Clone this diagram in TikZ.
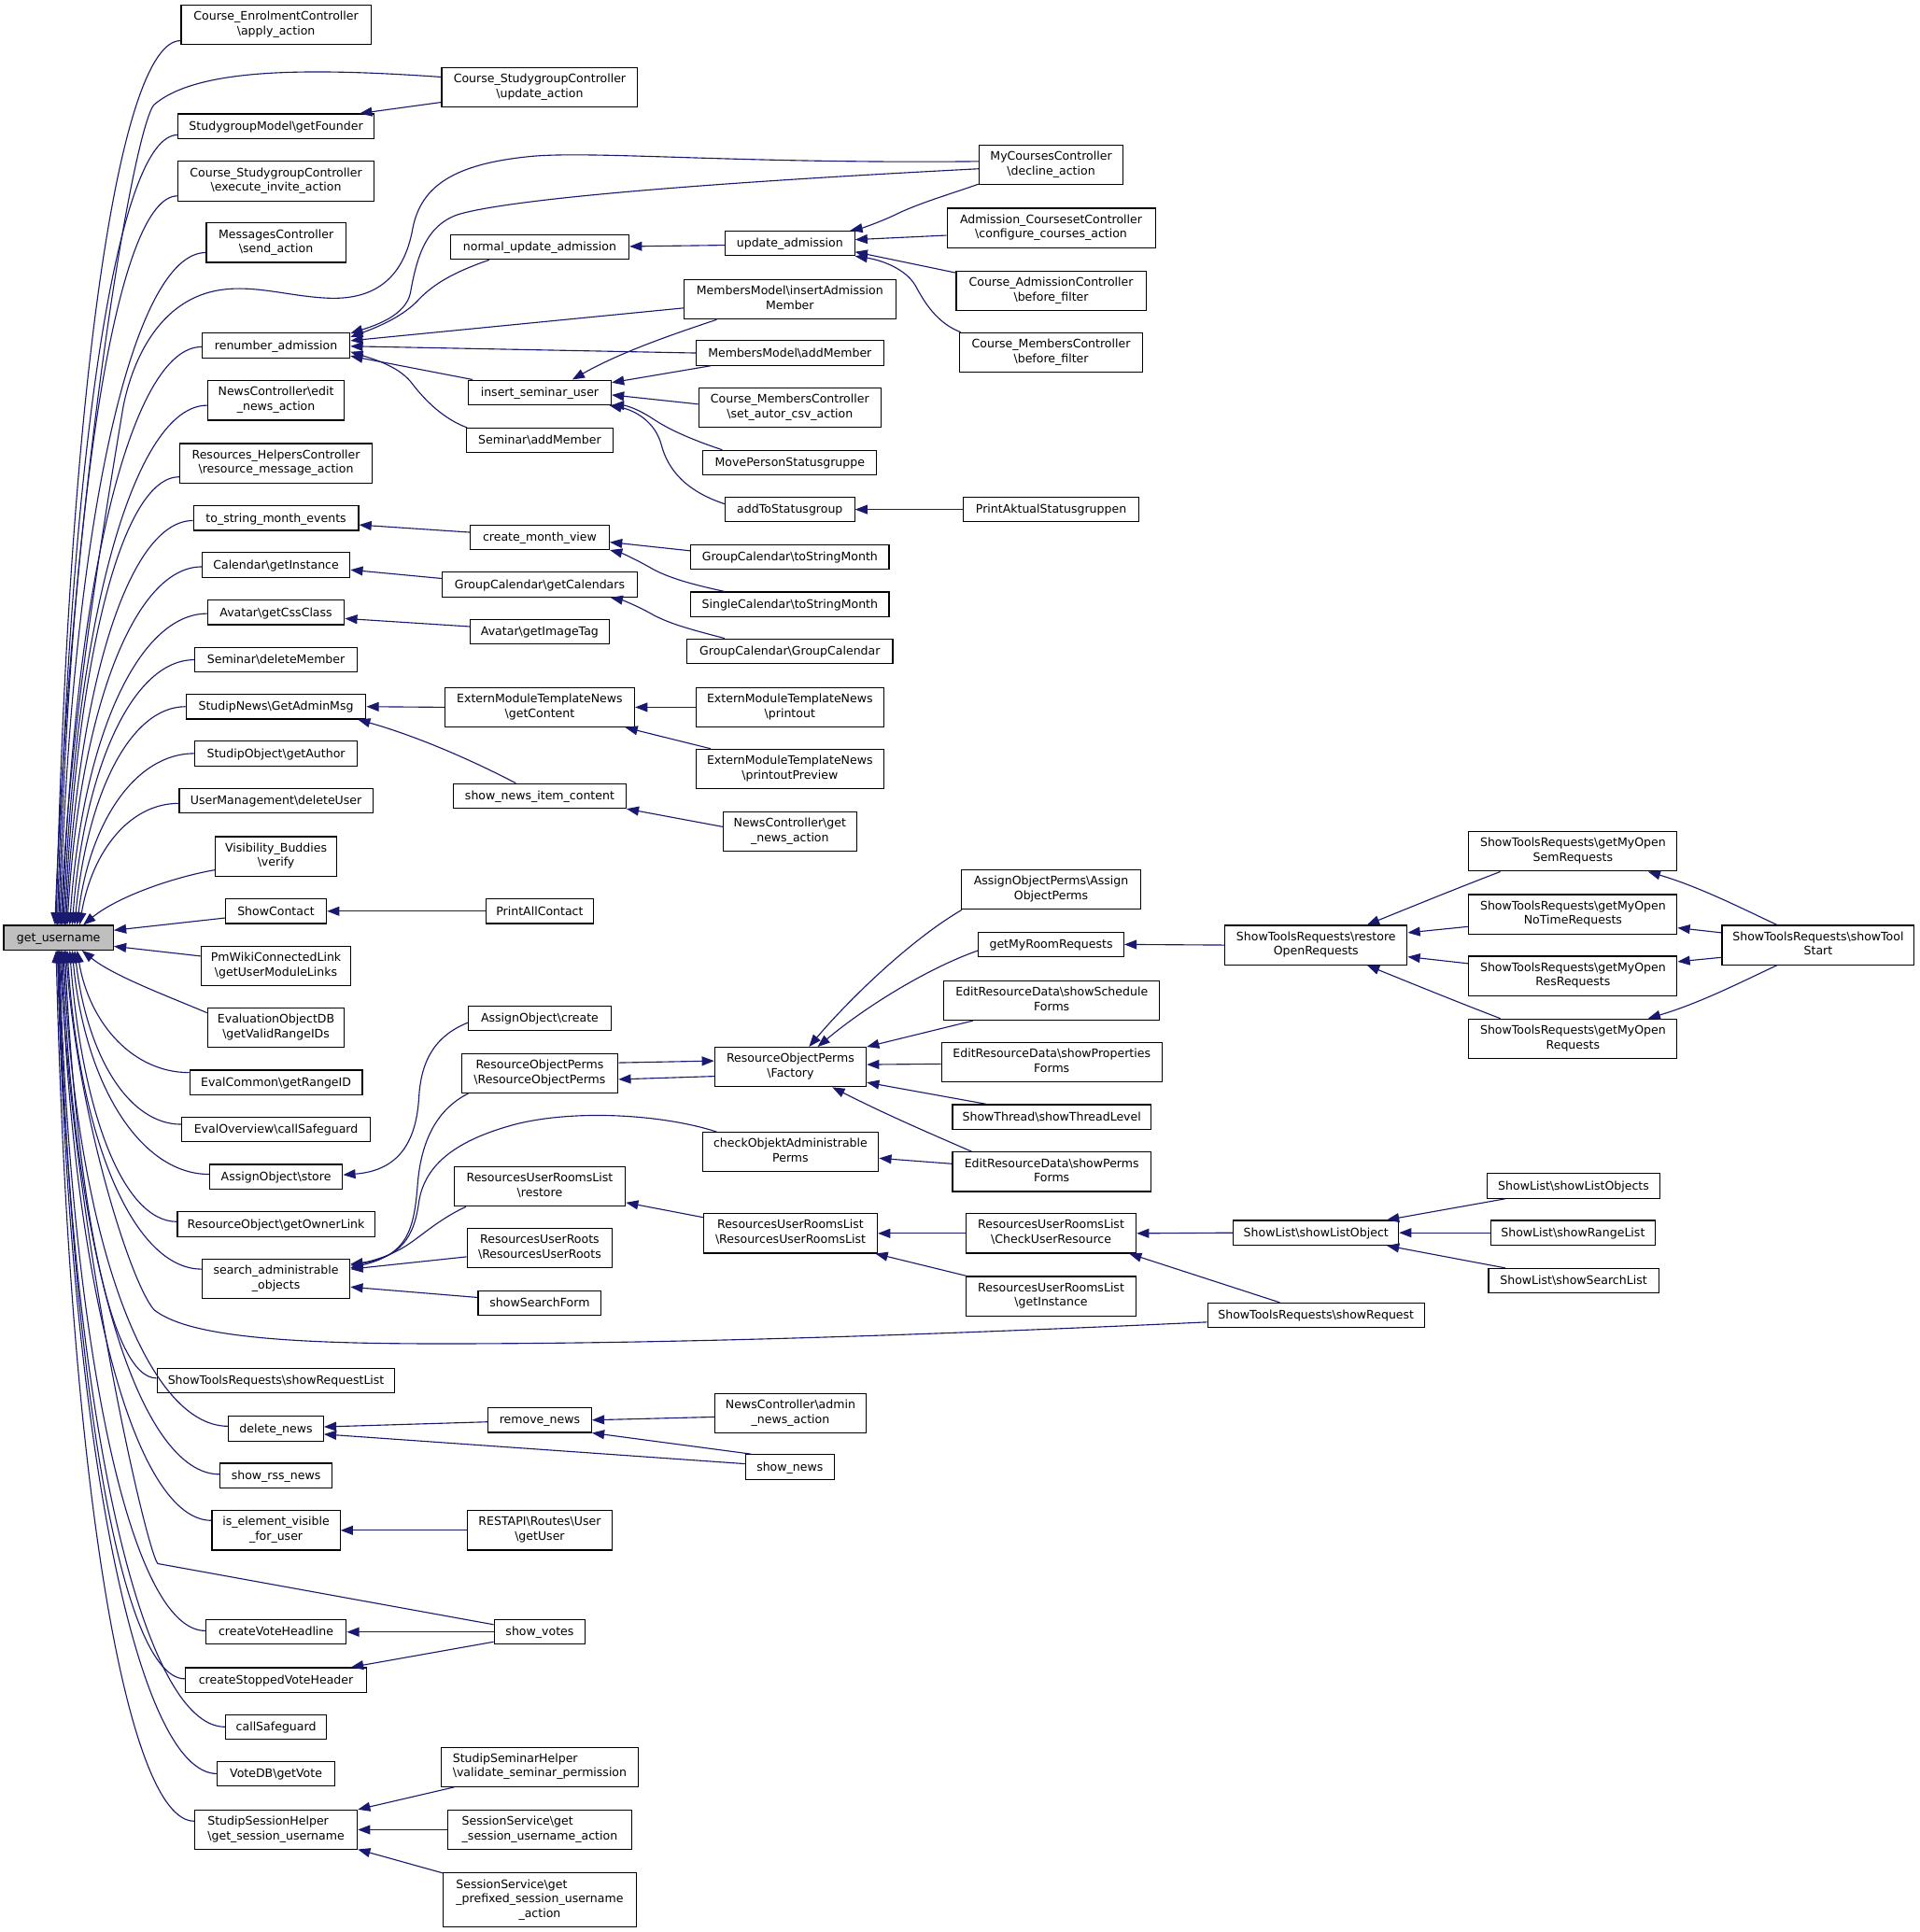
\documentclass[tikz,border=0pt]{standalone}
\usepackage{fontspec}
\setmainfont{DejaVu Sans}
\usetikzlibrary{calc,arrows.meta}
\definecolor{edgeblue}{HTML}{191970}
\definecolor{nodegray}{HTML}{BFBFBF}
\newcommand\bsx{\textbackslash}
\newcommand\mystrut{\rule[-2.8pt]{0pt}{12pt}}
\newcommand\mkbox[7][]{\node[fnbox,minimum width=#5pt,minimum height=#6pt,#1] (#2) at (#3,#4) {#7};}
\newcommand\gU[3]{\draw[edge] let \p1=($(#1.west)+(0,#2)$), \p2=($(gu.north west)+(#3,0)$) in (\p1) .. controls ({\x1-0.5*(\x1-\x2)},{\y1}) and ({\x2+10pt},{\y2+0.6*(\y1-\y2)}) .. (\p2);}
\newcommand\gD[3]{\draw[edge] let \p1=($(#1.west)+(0,#2)$), \p2=($(gu.south west)+(#3,0)$) in (\p1) .. controls ({\x1-0.5*(\x1-\x2)},{\y1}) and ({\x2+10pt},{\y2+0.6*(\y1-\y2)}) .. (\p2);}
\begin{document}
\begin{tikzpicture}[x=1pt,y=-1pt,
  fnbox/.style={draw=black,line width=0.85pt,fill=white,inner sep=0pt,align=center,
    font=\fontsize{9.5}{11.8}\selectfont,execute at begin node=\mystrut,execute at end node=\mystrut},
  edge/.style={draw=edgeblue,line width=0.85pt,-{Triangle[length=10pt,width=7.5pt]}}]
\path[use as bounding box,fill=white] (0,0) rectangle (1558,1568);

% ---------- nodes ----------
\mkbox[fill=nodegray]{gu}{47.5}{761}{89}{20}{get\_username}
\mkbox{c1}{224}{20}{154}{32}{Course\_EnrolmentController\\\bsx apply\_action}
\mkbox{c2}{224}{102.5}{159}{20}{StudygroupModel\bsx getFounder}
\mkbox{c3}{224}{147}{159}{32}{Course\_StudygroupController\\\bsx execute\_invite\_action}
\mkbox{c4}{224}{197}{113}{32}{MessagesController\\\bsx send\_action}
\mkbox{c5}{224}{280.5}{120}{20}{renumber\_admission}
\mkbox{c6}{224}{325}{111}{32}{NewsController\bsx edit\\\_news\_action}
\mkbox{c7}{224}{376}{156}{32}{Resources\_HelpersController\\\bsx resource\_message\_action}
\mkbox{c8}{224}{420.5}{134}{20}{to\_string\_month\_events}
\mkbox{c9}{224}{458.5}{120}{20}{Calendar\bsx getInstance}
\mkbox{c10}{224}{497}{111}{20}{Avatar\bsx getCssClass}
\mkbox{c11}{224}{535.5}{132}{20}{Seminar\bsx deleteMember}
\mkbox{c12}{224}{573.5}{146}{20}{StudipNews\bsx GetAdminMsg}
\mkbox{c13}{224}{611.5}{132}{20}{StudipObject\bsx getAuthor}
\mkbox{c14}{224}{650}{157}{20}{UserManagement\bsx deleteUser}
\mkbox{c15}{224}{695}{98}{32}{Visibility\_Buddies\\\bsx verify}
\mkbox{c16}{224}{739.5}{82}{20}{ShowContact}
\mkbox{c17}{224}{784}{121}{32}{PmWikiConnectedLink\\\bsx getUserModuleLinks}
\mkbox{c18}{224}{834}{111}{32}{EvaluationObjectDB\\\bsx getValidRangeIDs}
\mkbox{c19}{224}{878.5}{140}{20}{EvalCommon\bsx getRangeID}
\mkbox{c20}{224}{916.5}{153}{20}{EvalOverview\bsx callSafeguard}
\mkbox{c21}{224}{955}{108}{20}{AssignObject\bsx store}
\mkbox{c22}{224}{993.5}{160}{20}{ResourceObject\bsx getOwnerLink}
\mkbox{c23}{224}{1038}{120}{32}{search\_administrable\\\_objects}
\mkbox{c24}{224}{1120.5}{193}{20}{ShowToolsRequests\bsx showRequestList}
\mkbox{c25}{224}{1159.5}{77}{20}{delete\_news}
\mkbox{c26}{224}{1197.5}{91}{20}{show\_rss\_news}
\mkbox{c27}{224}{1242}{104}{32}{is\_element\_visible\\\_for\_user}
\mkbox{c28}{224}{1324.5}{114}{20}{createVoteHeadline}
\mkbox{c29}{224}{1363.5}{147}{20}{createStoppedVoteHeader}
\mkbox{c30}{224}{1401.5}{82}{20}{callSafeguard}
\mkbox{c31}{224}{1439.5}{95}{20}{VoteDB\bsx getVote}
\mkbox[align=left]{c32}{224}{1485}{132}{32}{StudipSessionHelper\\\bsx get\_session\_username}

\mkbox{d1}{438}{71}{159}{32}{Course\_StudygroupController\\\bsx update\_action}
\mkbox{d2}{438}{200.5}{145}{20}{normal\_update\_admission}
\mkbox{d3}{438}{318.5}{116}{20}{insert\_seminar\_user}
\mkbox{d4}{438}{357.5}{119}{20}{Seminar\bsx addMember}
\mkbox{d5}{438}{436}{113}{20}{create\_month\_view}
\mkbox{d6}{438}{474.5}{158}{20}{GroupCalendar\bsx getCalendars}
\mkbox{d7}{438}{512.5}{113}{20}{Avatar\bsx getImageTag}
\mkbox{d8}{438}{574}{154}{32}{ExternModuleTemplateNews\\\bsx getContent}
\mkbox{d9}{438}{646}{140}{20}{show\_news\_item\_content}
\mkbox{d10}{438}{739.5}{87}{20}{PrintAllContact}
\mkbox{d11}{438}{826.5}{116}{20}{AssignObject\bsx create}
\mkbox{d12}{438}{871}{127}{32}{ResourceObjectPerms\\\bsx ResourceObjectPerms}
\mkbox{d13}{438}{963}{139}{32}{ResourcesUserRoomsList\\\bsx restore}
\mkbox{d14}{438}{1013}{118}{32}{ResourcesUserRoots\\\bsx ResourcesUserRoots}
\mkbox{d15}{438}{1057.5}{100}{20}{showSearchForm}
\mkbox{d16}{438}{1152.5}{84}{20}{remove\_news}
\mkbox{d17}{438}{1242}{118}{32}{RESTAPI\bsx Routes\bsx User\\\bsx getUser}
\mkbox{d18}{438}{1324.5}{74}{20}{show\_votes}
\mkbox[align=left]{d19}{438}{1434}{160}{32}{StudipSeminarHelper\\\bsx validate\_seminar\_permission}
\mkbox[align=left]{d20}{438}{1485}{149}{32}{SessionService\bsx get\\\_session\_username\_action}
\mkbox{d21}{438}{1542}{157}{44}{\rlap{SessionService\bsx get}\phantom{\_prefixed\_session\_username}\\\_prefixed\_session\_username\\\_action}

\mkbox{e1}{641}{197.5}{105}{20}{update\_admission}
\mkbox{e2}{641}{243}{172}{32}{MembersModel\bsx insertAdmission\\Member}
\mkbox{e3}{641}{286.5}{152}{20}{MembersModel\bsx addMember}
\mkbox{e4}{641}{331}{148}{32}{Course\_MembersController\\\bsx set\_autor\_csv\_action}
\mkbox{e5}{641}{375.5}{141}{20}{MovePersonStatusgruppe}
\mkbox{e6}{641}{413.5}{105}{20}{addToStatusgroup}
\mkbox{e7}{641}{452}{161}{20}{GroupCalendar\bsx toStringMonth}
\mkbox{e8}{641}{490.5}{161}{20}{SingleCalendar\bsx toStringMonth}
\mkbox{e9}{641}{528.5}{167}{20}{GroupCalendar\bsx GroupCalendar}
\mkbox{e10}{641}{574}{152}{32}{ExternModuleTemplateNews\\\bsx printout}
\mkbox{e11}{641}{624}{152}{32}{ExternModuleTemplateNews\\\bsx printoutPreview}
\mkbox{e12}{641}{675}{108}{32}{NewsController\bsx get\\\_news\_action}
\mkbox{e13}{641.5}{866}{123}{32}{ResourceObjectPerms\\\bsx Factory}
\mkbox{e14}{641.5}{935}{143}{32}{checkObjektAdministrable\\Perms}
\mkbox{e15}{641.5}{1001}{141}{32}{ResourcesUserRoomsList\\\bsx ResourcesUserRoomsList}
\mkbox{e16}{641.5}{1147}{123}{32}{NewsController\bsx admin\\\_news\_action}
\mkbox{e17}{641}{1190.5}{72}{20}{show\_news}

\mkbox{f1}{853}{134}{117}{32}{MyCoursesController\\\bsx decline\_action}
\mkbox{f2}{853}{185}{169}{32}{Admission\_CoursesetController\\\bsx configure\_courses\_action}
\mkbox{f3}{853}{236}{154}{32}{Course\_AdmissionController\\\bsx before\_filter}
\mkbox{f4}{853}{286}{148}{32}{Course\_MembersController\\\bsx before\_filter}
\mkbox{f5}{853}{413.5}{142}{20}{PrintAktualStatusgruppen}
\mkbox{f6}{853}{722}{146}{32}{AssignObjectPerms\bsx Assign\\ObjectPerms}
\mkbox{f7}{853}{766.5}{118}{20}{getMyRoomRequests}
\mkbox{f8}{853.5}{812}{175}{32}{EditResourceData\bsx showSchedule\\Forms}
\mkbox{f9}{853.5}{862}{179}{32}{EditResourceData\bsx showProperties\\Forms}
\mkbox{f10}{853.5}{906.5}{161}{20}{ShowThread\bsx showThreadLevel}
\mkbox{f11}{853.5}{951}{161}{32}{EditResourceData\bsx showPerms\\Forms}
\mkbox{f12}{853}{1001}{138}{32}{ResourcesUserRoomsList\\\bsx CheckUserResource}
\mkbox{f13}{853}{1052}{138}{32}{ResourcesUserRoomsList\\\bsx getInstance}

\mkbox{g1}{1068}{767}{148}{32}{ShowToolsRequests\bsx restore\\OpenRequests}
\mkbox{g2}{1068}{1000.5}{134}{20}{ShowList\bsx showListObject}
\mkbox{g3}{1068}{1067.5}{176}{20}{ShowToolsRequests\bsx showRequest}
\mkbox{h1}{1276.5}{691}{169}{32}{ShowToolsRequests\bsx getMyOpen\\SemRequests}
\mkbox{h2}{1276.5}{742}{169}{32}{ShowToolsRequests\bsx getMyOpen\\NoTimeRequests}
\mkbox{h3}{1276.5}{792}{169}{32}{ShowToolsRequests\bsx getMyOpen\\ResRequests}
\mkbox{h4}{1276.5}{843}{169}{32}{ShowToolsRequests\bsx getMyOpen\\Requests}
\mkbox{h5}{1277}{962.5}{140}{20}{ShowList\bsx showListObjects}
\mkbox{h6}{1276.5}{1000.5}{133}{20}{ShowList\bsx showRangeList}
\mkbox{h7}{1277}{1039.5}{138}{20}{ShowList\bsx showSearchList}
\mkbox{k1}{1475.5}{767}{156}{32}{ShowToolsRequests\bsx showTool\\Start}

% ---------- edges into get_username ----------
\gU{c1}{13}{43}
\gU{c2}{7}{44}
\gU{c3}{12}{45}
\gU{c4}{8}{46}
\gU{c5}{1}{48}
\gU{c6}{4}{49}
\gU{c7}{11}{50}
\gU{c8}{2}{51}
\gU{c9}{1.5}{52}
\gU{c10}{1}{54}
\gU{c11}{0}{56}
\gU{c12}{0}{58}
\gU{c13}{0}{60}
\gU{c14}{2}{62}
\draw[edge] ($(c15.west)+(0,11)$) .. controls (140,712) and (95,728) .. ($(gu.north west)+(65,0)$);
\draw[edge] ($(c16.west)+(0,5.5)$) -- ($(gu.east)+(0,-6)$);
\draw[edge] ($(c17.west)+(0,-8)$) -- ($(gu.east)+(0,7)$);
\draw[edge] ($(c18.west)+(0,-12)$) .. controls (135,808) and (92,792) .. ($(gu.south west)+(64,0)$);
\gD{c19}{-8}{60}
\gD{c20}{-4}{58}
\gD{c21}{-2}{56}
\gD{c22}{-2}{54}
\gD{c23}{-8}{52}
\gD{c24}{-2}{50}
\gD{c25}{-2}{49}
\gD{c26}{-1}{48}
\gD{c27}{-8}{47}
\gD{c28}{-1}{45.5}
\gD{c29}{-1}{45}
\gD{c30}{0}{44.5}
\gD{c31}{0}{44}
\gD{c32}{-7}{43}
\draw[edge] ($(d1.west)+(0,-8.5)$) .. controls (250,55) and (160,55) .. (125,85)
  .. controls (108,105) and (58,400) .. ($(gu.north west)+(42,0)$);
\draw[edge] ($(f1.west)+(0,-3)$) .. controls (600,133) and (480,122) .. (430,127)
  .. controls (370,133) and (342,150) .. (335,185)
  .. controls (328,225) and (305,243) .. (268,242)
  .. controls (235,241) and (205,230) .. (175,236)
  .. controls (130,245) and (108,290) .. (100,330)
  .. controls (85,420) and (55,600) .. ($(gu.north west)+(47,0)$);
\draw[edge] ($(g3.west)+(0,5.5)$) .. controls (700,1086) and (500,1091) .. (340,1090.5)
  .. controls (220,1090) and (150,1083) .. (125,1063)
  .. controls (105,1040) and (62,900) .. ($(gu.south west)+(51,0)$);
\draw[edge] ($(d18.west)+(0,-6)$) -- (128,1269)
  .. controls (118,1256) and (60,1000) .. ($(gu.south west)+(46,0)$);

% ---------- other edges ----------
\draw[edge] ($(d1.west)+(0,12)$) -- ($(c2.north east)+(-12,0)$);
\draw[edge] ($(f1.west)+(0,3)$) .. controls (600,147) and (420,160) .. (372,174)
  .. controls (345,183) and (338,210) .. (333,238)
  .. controls (329,256) and (305,264) .. ($(c5.north east)+(0,0.5)$);
\draw[edge] ($(d2.south west)+(32,0)$) .. controls (365,222) and (350,232) .. (338,245)
  .. controls (325,258) and (305,266) .. ($(c5.east)+(0,-7)$);
\draw[edge] ($(e2.west)+(0,7)$) -- ($(c5.east)+(0,-4)$);
\draw[edge] (e3.west) -- ($(c5.east)+(0,0.5)$);
\draw[edge] ($(d3.north west)+(4,0)$) -- ($(c5.south east)+(0,-2)$);
\draw[edge] ($(d4.north west)+(1,0)$) .. controls (360,340) and (345,325) .. (335,312)
  .. controls (325,298) and (305,292) .. ($(c5.east)+(0,5)$);
\draw[edge] ($(e1.west)+(0,1.5)$) -- ($(d2.east)+(0,-0.5)$);
\draw[edge] ($(f1.south west)+(0,-1)$) .. controls (770,158) and (745,165) .. (725,175)
  .. controls (712,181) and (700,185) .. ($(e1.north east)+(-4,0)$);
\draw[edge] ($(f2.west)+(0,6)$) -- ($(e1.east)+(0,-3)$);
\draw[edge] ($(f3.north west)+(1,2)$) -- ($(e1.south east)+(0,-3.5)$);
\draw[edge] ($(f4.north west)+(1,0)$) .. controls (760,262) and (750,245) .. (743,232)
  .. controls (735,218) and (715,211) .. (e1.south east);
\draw[edge] ($(e2.south west)+(27,0)$) .. controls (550,270) and (505,285) .. ($(d3.north east)+(-32,0)$);
\draw[edge] ($(e3.south west)+(12,0)$) -- ($(d3.east)+(0,-8)$);
\draw[edge] ($(e4.west)+(0,-3)$) -- ($(d3.east)+(0,2)$);
\draw[edge] ($(e5.north west)+(16,0)$) .. controls (565,358) and (545,350) .. (530,340)
  .. controls (518,332) and (508,329) .. (d3.south east);
\draw[edge] ($(e6.west)+(0,-4.5)$) .. controls (555,398) and (542,380) .. (537,362)
  .. controls (532,342) and (515,333) .. ($(d3.south east)+(-2,0)$);
\draw[edge] (f5.west) -- (e6.east);
\draw[edge] ($(d5.west)+(0,-4)$) -- ($(c8.east)+(0,5.5)$);
\draw[edge] ($(e7.west)+(0,-5)$) -- ($(d5.east)+(0,4)$);
\draw[edge] ($(e8.north west)+(28,0)$) .. controls (565,475) and (545,470) .. (530,462)
  .. controls (518,455) and (505,449) .. (d5.south east);
\draw[edge] ($(d6.west)+(0,-5)$) -- ($(c9.east)+(0,4)$);
\draw[edge] ($(e9.north west)+(31,0)$) .. controls (565,512) and (545,507) .. (530,499)
  .. controls (518,492) and (505,487) .. ($(d6.south east)+(-22,0)$);
\draw[edge] ($(d7.west)+(0,-4)$) -- ($(c10.east)+(0,5)$);
\draw[edge] (d8.west) -- (c12.east);
\draw[edge] ($(d9.north west)+(51,0)$) .. controls (385,618) and (340,598) .. ($(c12.south east)+(-7,0)$);
\draw[edge] (e10.west) -- (d8.east);
\draw[edge] ($(e11.north west)+(12,0)$) -- ($(d8.south east)+(-8,0)$);
\draw[edge] ($(e12.west)+(0,-4)$) -- (d9.south east);
\draw[edge] (d10.west) -- (c16.east);
\draw[edge] ($(d11.west)+(0,3.5)$) .. controls (355,840) and (342,858) .. (340,890)
  .. controls (338,925) and (325,950) .. ($(c21.east)+(0,-1.5)$);
\draw[edge] ($(d12.south west)+(6,0)$) .. controls (355,900) and (342,925) .. (339,960)
  .. controls (336,1000) and (330,1018) .. ($(c23.east)+(0,-9)$);
\draw[edge] ($(e14.north west)+(12,0)$) .. controls (540,905) and (470,900) .. (420,912)
  .. controls (370,925) and (345,945) .. (340,975)
  .. controls (336,1005) and (325,1020) .. ($(c23.east)+(0,-11)$);
\draw[edge] ($(d13.south west)+(10,0)$) .. controls (355,990) and (340,1005) .. (328,1012)
  .. controls (315,1020) and (300,1024) .. ($(c23.east)+(0,-12)$);
\draw[edge] ($(d14.west)+(0,7)$) -- ($(c23.east)+(0,-8)$);
\draw[edge] ($(d15.west)+(0,-4.5)$) -- ($(c23.east)+(0,6.5)$);
\draw[edge] ($(d12.east)+(0,-8.5)$) -- ($(e13.west)+(0,-5)$);
\draw[edge] ($(e13.west)+(0,7.5)$) -- ($(d12.east)+(0,5)$);
\draw[edge] ($(f6.south west)+(1,0)$) .. controls (740,762) and (690,810) .. ($(e13.north)+(15,0)$);
\draw[edge] ($(f7.west)+(0,5)$) .. controls (755,785) and (705,815) .. ($(e13.north)+(22,0)$);
\draw[edge] ($(f8.south west)+(24,0)$) -- (e13.north east);
\draw[edge] ($(f9.west)+(0,1.5)$) -- ($(e13.east)+(0,-2)$);
\draw[edge] ($(f10.north west)+(28,0)$) -- ($(e13.east)+(0,12.5)$);
\draw[edge] ($(f11.north west)+(16,0)$) .. controls (755,920) and (720,905) .. ($(e13.south)+(34,0)$);
\draw[edge] ($(f11.west)+(0,-6.5)$) -- ($(e14.east)+(0,5)$);
\draw[edge] ($(e15.west)+(0,-13)$) -- ($(d13.east)+(0,13)$);
\draw[edge] (f12.west) -- (e15.east);
\draw[edge] ($(f13.north west)+(1,0)$) -- ($(e15.south east)+(-2,0)$);
\draw[edge] (g2.west) -- (f12.east);
\draw[edge] ($(g3.north west)+(59,0)$) -- ($(f12.south east)+(-6,0)$);
\draw[edge] (g1.west) -- (f7.east);
\draw[edge] ($(h1.south west)+(26,0)$) .. controls (1190,718) and (1160,730) .. ($(g1.north east)+(-33,0)$);
\draw[edge] ($(h2.west)+(0,10)$) -- ($(g1.east)+(0,-10)$);
\draw[edge] ($(h3.west)+(0,-10)$) -- ($(g1.east)+(0,9.5)$);
\draw[edge] ($(h4.north west)+(26,0)$) .. controls (1190,816) and (1160,804) .. ($(g1.south east)+(-33,0)$);
\draw[edge] ($(k1.north west)+(45,0)$) .. controls (1415,738) and (1380,720) .. ($(h1.south east)+(-24,0)$);
\draw[edge] ($(k1.west)+(0,-10)$) -- ($(h2.east)+(0,11)$);
\draw[edge] ($(k1.west)+(0,10)$) -- ($(h3.east)+(0,-11.5)$);
\draw[edge] ($(k1.south west)+(45,0)$) .. controls (1415,796) and (1380,814) .. ($(h4.north east)+(-24,0)$);
\draw[edge] ($(h5.south west)+(15,0)$) -- ($(g2.north east)+(-10,0)$);
\draw[edge] (h6.west) -- (g2.east);
\draw[edge] ($(h7.north west)+(14,0)$) -- ($(g2.south east)+(-10,0)$);
\draw[edge] ($(d16.west)+(0,1.5)$) -- ($(c25.east)+(0,-1.5)$);
\draw[edge] ($(e17.west)+(0,-2.5)$) -- ($(c25.east)+(0,4.5)$);
\draw[edge] ($(e16.west)+(0,3)$) -- (d16.east);
\draw[edge] ($(e17.north west)+(5,0)$) -- (d16.south east);
\draw[edge] (d17.west) -- (c27.east);
\draw[edge] (d18.west) -- (c28.east);
\draw[edge] ($(d18.west)+(0,8)$) -- ($(c29.north east)+(-13,0)$);
\draw[edge] ($(d19.south west)+(11,0)$) -- (c32.north east);
\draw[edge] (d20.west) -- (c32.east);
\draw[edge] ($(d21.north west)+(0,0.5)$) -- ($(c32.south east)+(0,-0.5)$);
\end{tikzpicture}
\end{document}
